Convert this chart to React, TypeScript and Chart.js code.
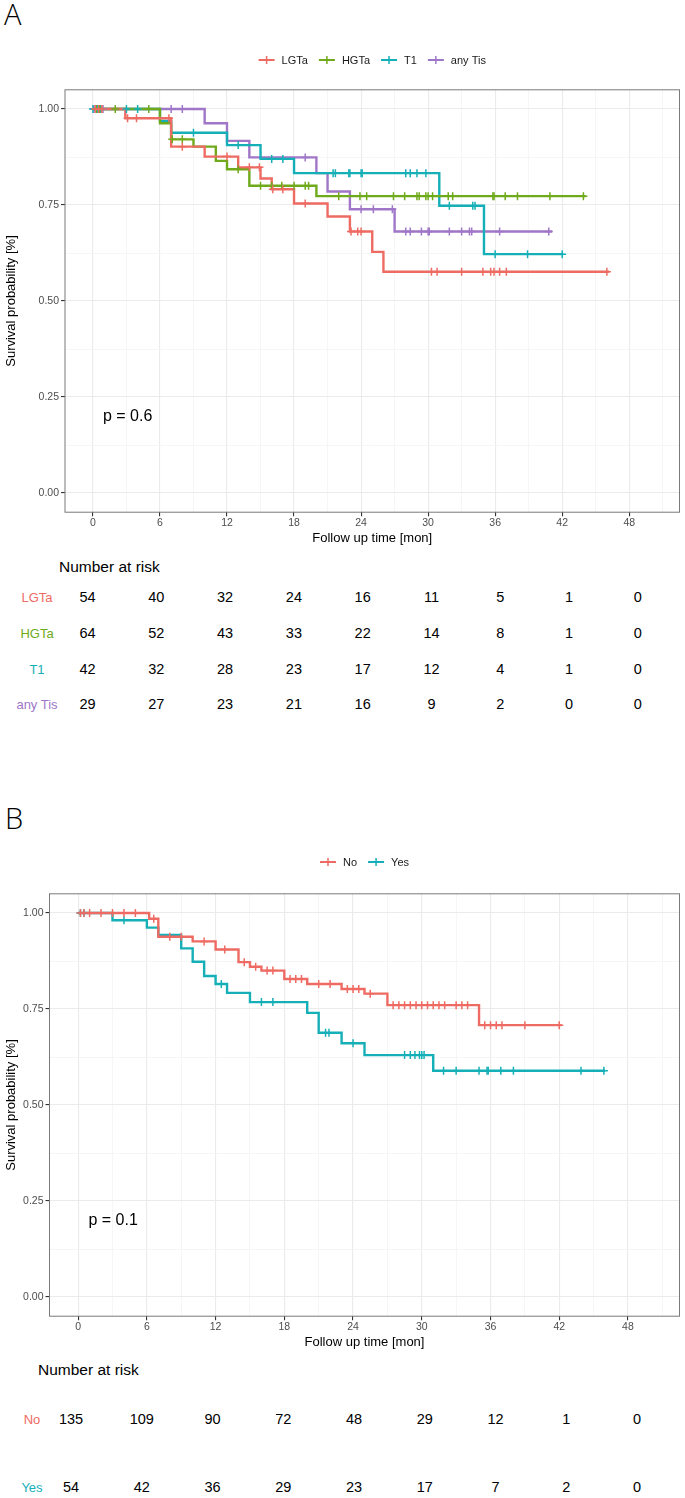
import React, { useEffect, useRef } from 'react';
import { Chart, registerables } from 'chart.js';

Chart.register(...registerables);

const FONT = '"Liberation Sans", Arial, Helvetica, sans-serif';

// ---- axis ticks ----
const xMajorTicks = [0, 6, 12, 18, 24, 30, 36, 42, 48];
const xMinorTicks = [3, 9, 15, 21, 27, 33, 39, 45, 51];
const yMajorTicks = [0, 0.25, 0.5, 0.75, 1];
const yMinorTicks = [0.125, 0.375, 0.625, 0.875];
const yTickLabels = ['0.00', '0.25', '0.50', '0.75', '1.00'];

// ---- Panel A: survival curves ----
const lgtaTimes = [0, 2.9, 7.0, 10.0, 13.0, 15.0, 16.0, 18.0, 21.0, 23.0, 25.0, 26.0, 46.2];
const lgtaSurv = [1, 0.976, 0.902, 0.876, 0.848, 0.819, 0.791, 0.754, 0.72, 0.681, 0.628, 0.576, 0.576];
const lgtaCensor = [0.2, 0.5, 0.8, 3.1, 3.9, 6.8, 8.0, 12.0, 14.0, 14.9, 16.1, 17.0, 19.0, 23.1, 23.7, 24.0, 30.3, 30.8, 33.0, 34.9, 35.6, 35.9, 36.4, 37.0, 46.0];

const hgtaTimes = [0, 6.0, 7.0, 9.0, 11.0, 12.0, 14.0, 20.0, 44.1];
const hgtaSurv = [1, 0.963, 0.921, 0.902, 0.865, 0.843, 0.8, 0.773, 0.773];
const hgtaCensor = [0.3, 0.6, 2.0, 5.0, 7.1, 8.0, 13.0, 15.0, 16.0, 16.9, 18.0, 19.0, 19.3, 22.0, 23.9, 24.5, 26.9, 27.9, 29.0, 29.2, 29.8, 30.0, 30.4, 31.8, 32.2, 35.8, 35.9, 36.9, 38.0, 40.9, 43.9];

const t1Times = [0, 6.0, 7.0, 12.0, 15.0, 18.0, 31.0, 35.0, 42.1];
const t1Surv = [1, 0.969, 0.938, 0.906, 0.87, 0.833, 0.748, 0.622, 0.622];
const t1Censor = [0.0, 0.4, 0.7, 3.0, 4.0, 9.0, 13.0, 16.0, 17.0, 21.5, 21.7, 22.9, 23.0, 24.0, 24.1, 28.0, 28.4, 29.0, 29.8, 31.9, 34.0, 34.2, 36.0, 38.9, 42.0];

const tisTimes = [0, 10.0, 12.0, 14.0, 20.0, 21.0, 23.0, 27.0, 41.1];
const tisSurv = [1, 0.963, 0.917, 0.874, 0.833, 0.785, 0.739, 0.681, 0.681];
const tisCensor = [0.1, 0.5, 0.9, 7.0, 8.0, 19.0, 24.0, 25.1, 26.8, 28.0, 28.4, 29.4, 30.0, 30.1, 31.9, 33.0, 33.7, 33.9, 36.4, 40.8];

// ---- Panel B: survival curves ----
const noTimes = [0, 6.2, 7.0, 10.0, 12.0, 14.0, 15.0, 16.0, 18.0, 20.0, 23.0, 25.0, 27.0, 35.0, 42.2];
const noSurv = [1, 0.985, 0.938, 0.926, 0.905, 0.872, 0.86, 0.85, 0.828, 0.815, 0.802, 0.79, 0.76, 0.708, 0.708];
const noCensor = [0.2, 0.5, 1.0, 2.0, 3.0, 4.0, 5.0, 6.6, 8.0, 9.0, 11.0, 12.8, 14.5, 15.5, 16.5, 17.0, 18.5, 19.0, 19.5, 21.0, 22.0, 23.5, 24.0, 24.5, 25.5, 27.5, 28.0, 28.5, 29.0, 29.5, 30.0, 30.5, 31.0, 31.5, 32.0, 33.0, 33.5, 34.0, 35.5, 36.0, 36.5, 37.0, 39.0, 42.0];

const yesTimes = [0, 3.0, 6.0, 7.0, 9.0, 10.0, 11.0, 12.0, 13.0, 15.0, 20.0, 21.0, 23.0, 25.0, 31.0, 46.0];
const yesSurv = [1, 0.981, 0.962, 0.943, 0.908, 0.873, 0.836, 0.815, 0.792, 0.768, 0.74, 0.688, 0.661, 0.63, 0.589, 0.589];
const yesCensor = [0.2, 0.5, 4.0, 12.5, 16.0, 17.0, 21.6, 21.9, 24.0, 28.5, 29.0, 29.4, 29.8, 30.0, 30.2, 31.9, 33.0, 35.0, 35.7, 35.8, 36.9, 38.0, 43.9, 45.9];

// ---- Number at risk ----
const riskTimes = [0, 6, 12, 18, 24, 30, 36, 42, 48];
const riskLGTa = [54, 40, 32, 24, 16, 11, 5, 1, 0];
const riskHGTa = [64, 52, 43, 33, 22, 14, 8, 1, 0];
const riskT1 = [42, 32, 28, 23, 17, 12, 4, 1, 0];
const riskAnyTis = [29, 27, 23, 21, 16, 9, 2, 0, 0];
const riskNo = [135, 109, 90, 72, 48, 29, 12, 1, 0];
const riskYes = [54, 42, 36, 29, 23, 17, 7, 2, 0];

const RED = '#EE6B63';
const GREEN = '#6EAA1A';
const CYAN = '#15AFB7';
const PURPLE = '#A077C8';

type Series = { label: string; color: string; times: number[]; surv: number[]; censor: number[]; risk: number[] };

const seriesA: Series[] = [
  { label: 'LGTa', color: RED, times: lgtaTimes, surv: lgtaSurv, censor: lgtaCensor, risk: riskLGTa },
  { label: 'HGTa', color: GREEN, times: hgtaTimes, surv: hgtaSurv, censor: hgtaCensor, risk: riskHGTa },
  { label: 'T1', color: CYAN, times: t1Times, surv: t1Surv, censor: t1Censor, risk: riskT1 },
  { label: 'any Tis', color: PURPLE, times: tisTimes, surv: tisSurv, censor: tisCensor, risk: riskAnyTis },
];
const seriesB: Series[] = [
  { label: 'No', color: RED, times: noTimes, surv: noSurv, censor: noCensor, risk: riskNo },
  { label: 'Yes', color: CYAN, times: yesTimes, surv: yesSurv, censor: yesCensor, risk: riskYes },
];

function survAt(times: number[], surv: number[], t: number) {
  let s = surv[0];
  for (let i = 0; i < times.length; i++) if (times[i] <= t) s = surv[i];
  return s;
}

type Geom = { top: number; height: number; padTop: number; left: number; right: number; bottom: number; legendY: number };

function KMChart({ series, geom, pText }: { series: Series[]; geom: Geom; pText: string }) {
  const ref = useRef<HTMLCanvasElement | null>(null);
  useEffect(() => {
    const canvas = ref.current!;
    const isMajorX = (v: number) => xMajorTicks.includes(v);
    const isMajorY = (v: number) => yMajorTicks.includes(v);
    const datasets: any[] = [];
    series.forEach((s) => {
      datasets.push({
        label: s.label,
        data: s.times.map((t, i) => ({ x: t, y: s.surv[i] })),
        stepped: 'before',
        borderColor: s.color,
        borderWidth: 2.4,
        pointRadius: 0,
        fill: false,
        order: 2,
      });
    });
    series.forEach((s) => {
      datasets.push({
        label: s.label + ' censored',
        data: s.censor.map((t) => ({ x: t, y: survAt(s.times, s.surv, t) })),
        showLine: false,
        pointStyle: 'cross',
        pointRadius: 4,
        pointBorderWidth: 1.5,
        pointBorderColor: s.color,
        pointBackgroundColor: s.color,
        borderColor: s.color,
        order: 1,
      });
    });

    const legendPlugin = {
      id: 'kmLegend',
      afterDraw(chart: any) {
        const ctx = chart.ctx as CanvasRenderingContext2D;
        ctx.save();
        ctx.font = `11px ${FONT}`;
        const keyW = 16, gapKT = 7, gapItem = 11;
        const widths = series.map((s) => ctx.measureText(s.label).width);
        const total = widths.reduce((a, w) => a + keyW + gapKT + w, 0) + gapItem * (series.length - 1);
        let x = (chart.chartArea.left + chart.chartArea.right) / 2 - total / 2;
        const y = geom.legendY;
        series.forEach((s, i) => {
          ctx.strokeStyle = s.color;
          ctx.lineWidth = 2;
          ctx.beginPath(); ctx.moveTo(x, y); ctx.lineTo(x + keyW, y); ctx.stroke();
          ctx.lineWidth = 1.5;
          ctx.beginPath(); ctx.moveTo(x + keyW / 2, y - 4); ctx.lineTo(x + keyW / 2, y + 4); ctx.stroke();
          ctx.fillStyle = '#1a1a1a';
          ctx.textBaseline = 'middle';
          ctx.textAlign = 'left';
          ctx.fillText(s.label, x + keyW + gapKT, y + 0.5);
          x += keyW + gapKT + widths[i] + gapItem;
        });
        ctx.restore();
      },
    };
    const framePlugin = {
      id: 'kmFrame',
      afterDraw(chart: any) {
        const ctx = chart.ctx as CanvasRenderingContext2D;
        const a = chart.chartArea;
        ctx.save();
        ctx.strokeStyle = '#7a7a7a';
        ctx.lineWidth = 1;
        ctx.strokeRect(a.left, a.top, a.right - a.left, a.bottom - a.top);
        const xs = chart.scales.x, ys = chart.scales.y;
        ctx.font = `16px ${FONT}`;
        ctx.fillStyle = '#000';
        ctx.textAlign = 'left';
        ctx.textBaseline = 'middle';
        ctx.fillText(pText, xs.getPixelForValue(0.9), ys.getPixelForValue(0.2));
        ctx.restore();
      },
    };

    const chart = new Chart(canvas, {
      type: 'line',
      data: { datasets },
      options: {
        animation: false,
        responsive: false,
        maintainAspectRatio: false,
        events: [],
        layout: { padding: { top: geom.padTop, left: 0, right: 685 - geom.right, bottom: 0 } },
        plugins: { legend: { display: false }, tooltip: { enabled: false }, title: { display: false } },
        scales: {
          x: {
            type: 'linear',
            min: -2.5,
            max: 52.5,
            afterBuildTicks: (s: any) => {
              s.ticks = [...xMajorTicks, ...xMinorTicks].sort((a, b) => a - b).map((v) => ({ value: v }));
            },
            afterFit: (s: any) => { s.height = geom.height - (geom.bottom - geom.top); },
            ticks: {
              autoSkip: false,
              maxRotation: 0,
              padding: 1,
              color: '#4D4D4D',
              font: { family: FONT, size: 10.5 },
              callback: (v: any) => (isMajorX(v) ? String(v) : ''),
            },
            grid: {
              color: (c: any) => (isMajorX(c.tick.value) ? '#EBEBEB' : '#F4F4F4'),
              lineWidth: (c: any) => (isMajorX(c.tick.value) ? 1.1 : 0.8),
              tickLength: 4,
              tickColor: (c: any) => (isMajorX(c.tick.value) ? '#333333' : 'rgba(0,0,0,0)'),
            },
            border: { display: false },
            title: { display: true, text: 'Follow up time [mon]', color: '#000', font: { family: FONT, size: 13 }, padding: { top: 0, bottom: 0 } },
          },
          y: {
            type: 'linear',
            min: -0.05,
            max: 1.05,
            afterBuildTicks: (s: any) => {
              s.ticks = [...yMajorTicks, ...yMinorTicks].sort((a, b) => a - b).map((v) => ({ value: v }));
            },
            afterFit: (s: any) => { s.width = geom.left; },
            ticks: {
              autoSkip: false,
              padding: 2,
              color: '#4D4D4D',
              font: { family: FONT, size: 10.5 },
              callback: (v: any) => {
                const i = yMajorTicks.indexOf(v);
                return i >= 0 ? yTickLabels[i] : '';
              },
            },
            grid: {
              color: (c: any) => (isMajorY(c.tick.value) ? '#EBEBEB' : '#F4F4F4'),
              lineWidth: (c: any) => (isMajorY(c.tick.value) ? 1.1 : 0.8),
              tickLength: 4,
              tickColor: (c: any) => (isMajorY(c.tick.value) ? '#333333' : 'rgba(0,0,0,0)'),
            },
            border: { display: false },
            title: { display: true, text: 'Survival probability [%]', color: '#000', font: { family: FONT, size: 13 }, padding: { top: 4, bottom: 0 } },
          },
        },
      } as any,
      plugins: [legendPlugin, framePlugin],
    });
    return () => chart.destroy();
  }, []);
  return (
    <canvas
      ref={ref}
      width={685}
      height={geom.height}
      style={{ position: 'absolute', left: 0, top: geom.top, width: 685, height: geom.height }}
    />
  );
}

function RiskTable({ series, top, labelX, x0, dx, rowYs }: { series: Series[]; top: number; labelX: number; x0: number; dx: number; rowYs: number[] }) {
  const cell: React.CSSProperties = { position: 'absolute', transform: 'translate(-50%, -50%)', whiteSpace: 'nowrap', lineHeight: 1 };
  return (
    <>
      <div style={{ position: 'absolute', left: labelX - 37 + 59 - (labelX === 37 ? 0 : 16), top, transform: 'translateY(-50%)', fontSize: 15.5, lineHeight: 1, whiteSpace: 'nowrap', color: '#000' }}>
        Number at risk
      </div>
      {series.map((s, r) => (
        <React.Fragment key={s.label}>
          <div style={{ ...cell, left: labelX, top: rowYs[r], fontSize: 13, color: s.color }}>{s.label}</div>
          {s.risk.map((n, i) => (
            <div key={i} style={{ ...cell, left: x0 + dx * (riskTimes[i] / 6), top: rowYs[r], fontSize: 14.5, color: '#000' }}>
              {n}
            </div>
          ))}
        </React.Fragment>
      ))}
    </>
  );
}

export default function App() {
  const geomA: Geom = { top: 0, height: 546, padTop: 89.8, left: 65, right: 682, bottom: 512.2, legendY: 60 };
  const geomB: Geom = { top: 840, height: 510, padTop: 53.8, left: 49.5, right: 683, bottom: 1316.2 - 840 + 840 - 840 + 840, legendY: 22 };
  // geomB.bottom is in page coordinates like geomA
  return (
    <div style={{ position: 'absolute', left: 0, top: 0, width: 685, height: 1498, fontFamily: FONT, background: '#fff', overflow: 'hidden' }}>
      <div style={{ position: 'absolute', left: 4, top: -1, fontFamily: '"Open Sans", "DejaVu Sans", sans-serif', fontWeight: 300, fontSize: 29, lineHeight: '29px' }}>A</div>
      <KMChart series={seriesA} geom={geomA} pText="p = 0.6" />
      <RiskTable series={seriesA} top={567} labelX={37} x0={87.5} dx={68.8} rowYs={[597, 633, 669, 704]} />
      <div style={{ position: 'absolute', left: 5, top: 803, fontFamily: '"Open Sans", "DejaVu Sans", sans-serif', fontWeight: 300, fontSize: 29, lineHeight: '29px' }}>B</div>
      <KMChart series={seriesB} geom={{ ...geomB, bottom: 1316.2 }} pText="p = 0.1" />
      <RiskTable series={seriesB} top={1370} labelX={32} x0={71} dx={70.75} rowYs={[1419, 1487]} />
    </div>
  );
}
